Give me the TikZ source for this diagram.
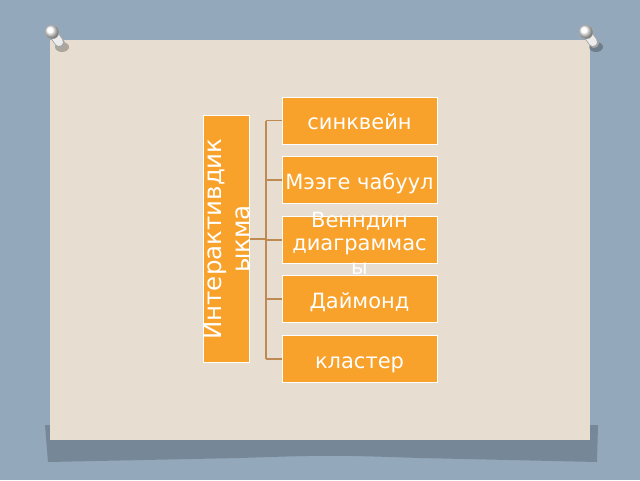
\documentclass[tikz,border=0pt]{standalone}
\usepackage{fontspec}
\setmainfont{DejaVu Sans}
\definecolor{wallblue}{HTML}{93A8BB}
\definecolor{paper}{HTML}{E7DED1}
\definecolor{orangebox}{HTML}{F8A12B}
\definecolor{linkbrown}{HTML}{BF8A52}
\definecolor{shadowgray}{HTML}{5F6E7B}
\begin{document}
\begin{tikzpicture}[
	x=1pt,y=-1pt,
	thick,
	line cap=round,
	line join=round,
	boxtext/.style={text=white,font=\fontsize{21}{23.5}\selectfont,align=center},
	boxfill/.style={draw=white,line width=0.8pt,fill=orangebox,inner sep=0pt},
	box/.style={boxtext,boxfill,minimum width=155pt,minimum height=47pt,
		text height=18pt,text depth=0pt},
	mainbox/.style={boxtext,boxfill,rotate=90,minimum width=247pt,minimum height=46pt,
		font=\fontsize{24.5}{28}\selectfont},
	link/.style={draw=linkbrown,line width=1.3pt,line cap=butt},
	pin/.style={ball color=white,draw=gray!60,line width=0.4pt}
	]
	\useasboundingbox (0,0) rectangle (640,480);
	\fill[wallblue] (0,0) rectangle (640,480);
	% paper and its shadow
	\fill[shadowgray,opacity=0.55] (45,425) -- (598,425) -- (597,462)
		-- (420,458) .. controls (330,455) .. (240,458) -- (48,462) -- cycle;
	\fill[paper] (50,40) rectangle (590,440);
	% pins
	\foreach \px in {52,586}{
		\fill[black,opacity=0.25] (\px+10,47) ellipse (7 and 5);
		\draw[line width=10pt,gray!70,line cap=round] (\px,32) -- (\px+8,43);
		\draw[line width=8pt,gray!15,line cap=round] (\px,32) -- (\px+7,42);
		\shade[pin] (\px,32) circle (7);
	}
	\node[mainbox] (main) at (226.5,239) {Интерактивдик\\ыкма};
	\node[box] (s1) at (359.5,120.5) {синквейн};
	\node[box] (s2) at (359.5,180) {Мээге чабуул};
	\node[box,label={[boxtext,yshift=-3pt]center:Венндин\\диаграммас\\ы}] (s3) at (359.5,240) {};
	\node[box] (s4) at (359.5,299) {Даймонд};
	\node[box] (s5) at (359.5,359) {кластер};
	\coordinate (hub) at (266,240);
	\draw[link] (main.south) -- (main.south -| hub);
	\draw[link] (s1.west -| hub) -- (s5.west -| hub);
	\foreach \s in {s1,s2,s3,s4,s5}
		\draw[link] (\s.west -| hub) -- (\s.west);
\end{tikzpicture}
\end{document}
